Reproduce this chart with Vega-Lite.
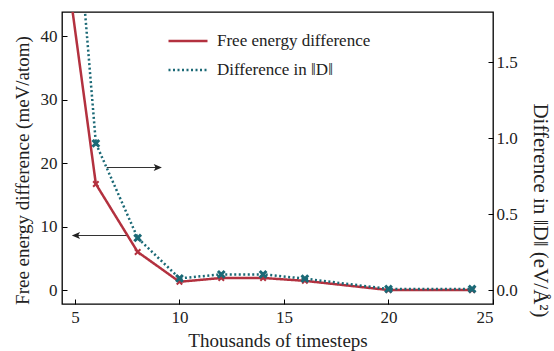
{
  "$schema": "https://vega.github.io/schema/vega-lite/v6.json",
  "width": 431,
  "height": 292,
  "autosize": {"type": "none"},
  "padding": {"left": 62, "top": 12, "right": 61, "bottom": 47},
  "background": "white",
  "config": {
    "font": "Liberation Serif, Times New Roman, serif",
    "view": {"stroke": "black", "strokeWidth": 1.3},
    "axis": {
      "grid": false,
      "domain": false,
      "tickColor": "black",
      "tickSize": -5,
      "tickWidth": 1,
      "labelFont": "Liberation Serif, Times New Roman, serif",
      "labelFontSize": 17,
      "labelColor": "#222",
      "titleFont": "Liberation Serif, Times New Roman, serif",
      "titleFontSize": 19,
      "titleFontWeight": "normal",
      "titleColor": "#222"
    },
    "legend": {
      "labelFont": "Liberation Serif, Times New Roman, serif",
      "labelFontSize": 17,
      "labelColor": "#222"
    }
  },
  "datasets": {
    "energy": [
      {"ts": 4, "value": 65.5, "series": "Free energy difference"},
      {"ts": 6, "value": 16.7, "series": "Free energy difference"},
      {"ts": 8, "value": 6.0, "series": "Free energy difference"},
      {"ts": 10, "value": 1.3, "series": "Free energy difference"},
      {"ts": 12, "value": 1.9, "series": "Free energy difference"},
      {"ts": 14, "value": 1.9, "series": "Free energy difference"},
      {"ts": 16, "value": 1.45, "series": "Free energy difference"},
      {"ts": 20, "value": 0.0, "series": "Free energy difference"},
      {"ts": 24, "value": 0.0, "series": "Free energy difference"}
    ],
    "dnorm": [
      {"ts": 4, "value": 4.3, "series": "Difference in ‖D‖"},
      {"ts": 6, "value": 0.966, "series": "Difference in ‖D‖"},
      {"ts": 8, "value": 0.343, "series": "Difference in ‖D‖"},
      {"ts": 10, "value": 0.077, "series": "Difference in ‖D‖"},
      {"ts": 12, "value": 0.103, "series": "Difference in ‖D‖"},
      {"ts": 14, "value": 0.103, "series": "Difference in ‖D‖"},
      {"ts": 16, "value": 0.075, "series": "Difference in ‖D‖"},
      {"ts": 20, "value": 0.007, "series": "Difference in ‖D‖"},
      {"ts": 24, "value": 0.007, "series": "Difference in ‖D‖"}
    ],
    "arrows": [
      {"x0": 6.52, "x1": 9.07, "y": 19.3, "dir": "right"},
      {"x0": 7.5, "x1": 4.94, "y": 8.6, "dir": "left"}
    ]
  },
  "layer": [
    {
      "layer": [
        {
          "data": {"name": "arrows"},
          "mark": {"type": "rule", "color": "#333", "strokeWidth": 1.1},
          "encoding": {
            "x": {"field": "x0", "type": "quantitative"},
            "x2": {"field": "x1"},
            "y": {"field": "y", "type": "quantitative"}
          }
        },
        {
          "data": {"name": "arrows"},
          "mark": {"type": "point", "filled": true, "color": "#222", "opacity": 1, "size": 160, "strokeWidth": 0},
          "encoding": {
            "x": {"field": "x1", "type": "quantitative"},
            "y": {"field": "y", "type": "quantitative"},
            "shape": {"field": "dir", "type": "nominal", "scale": {"domain": ["right", "left"], "range": ["M0.3,0L-1,-0.55L-0.7,0L-1,0.55Z", "M-0.3,0L1,-0.55L0.7,0L1,0.55Z"]}, "legend": null}
          }
        },
        {
          "data": {"name": "energy"},
          "mark": {"type": "line", "clip": true, "strokeWidth": 2.5},
          "encoding": {
            "x": {"field": "ts", "type": "quantitative", "scale": {"domain": [4.38, 25], "nice": false, "zero": false}, "axis": {"values": [5, 10, 15, 20, 25], "title": "Thousands of timesteps", "labelPadding": 10, "titlePadding": 6}},
            "y": {"field": "value", "type": "quantitative", "scale": {"domain": [-2.2, 43.8], "nice": false, "zero": false}, "axis": {"values": [0, 10, 20, 30, 40], "title": "Free energy difference (meV/atom)", "labelPadding": 10, "titlePadding": 8, "titleY": 158}},
            "color": {"field": "series", "type": "nominal", "scale": {"domain": ["Free energy difference", "Difference in ‖D‖"], "range": ["#b3313f", "#1b6976"]}, "legend": {"title": null, "orient": "none", "legendX": 105, "legendY": 8, "symbolType": "stroke", "symbolSize": 1521, "symbolStrokeWidth": 2.5, "labelOffset": 8, "rowPadding": -7, "padding": 0}},
            "strokeDash": {"field": "series", "type": "nominal", "scale": {"domain": ["Free energy difference", "Difference in ‖D‖"], "range": [[1, 0], [2, 2.5]]}, "legend": {"title": null, "orient": "none", "legendX": 105, "legendY": 8, "symbolType": "stroke", "symbolSize": 1521, "symbolStrokeWidth": 2.5, "labelOffset": 8, "rowPadding": -7, "padding": 0}}
          }
        },
        {
          "data": {"name": "energy"},
          "transform": [{"filter": "datum.ts > 5"}],
          "mark": {"type": "point", "shape": "M-1,-1L1,1M1,-1L-1,1", "filled": false, "color": "#b3313f", "strokeWidth": 2, "size": 30, "opacity": 1},
          "encoding": {
            "x": {"field": "ts", "type": "quantitative"},
            "y": {"field": "value", "type": "quantitative"}
          }
        }
      ]
    },
    {
      "layer": [
        {
          "data": {"name": "dnorm"},
          "mark": {"type": "line", "clip": true, "strokeWidth": 2.5},
          "encoding": {
            "x": {"field": "ts", "type": "quantitative"},
            "y": {"field": "value", "type": "quantitative", "scale": {"domain": [-0.092, 1.831], "nice": false, "zero": false}, "axis": {"orient": "right", "values": [0, 0.5, 1.0, 1.5], "format": ".1f", "title": "Difference in  ‖D‖  (eV/Å²)", "titleFontSize": 21, "labelPadding": 8, "titlePadding": 12, "titleY": 198}},
            "color": {"field": "series", "type": "nominal"},
            "strokeDash": {"field": "series", "type": "nominal"}
          }
        },
        {
          "data": {"name": "dnorm"},
          "transform": [{"filter": "datum.ts > 5"}],
          "mark": {"type": "point", "shape": "M-1,-1L1,1M1,-1L-1,1", "filled": false, "color": "#1b6976", "strokeWidth": 3, "size": 45, "opacity": 1},
          "encoding": {
            "x": {"field": "ts", "type": "quantitative"},
            "y": {"field": "value", "type": "quantitative"}
          }
        }
      ]
    }
  ],
  "resolve": {"scale": {"y": "independent"}, "axis": {"y": "independent"}}
}
